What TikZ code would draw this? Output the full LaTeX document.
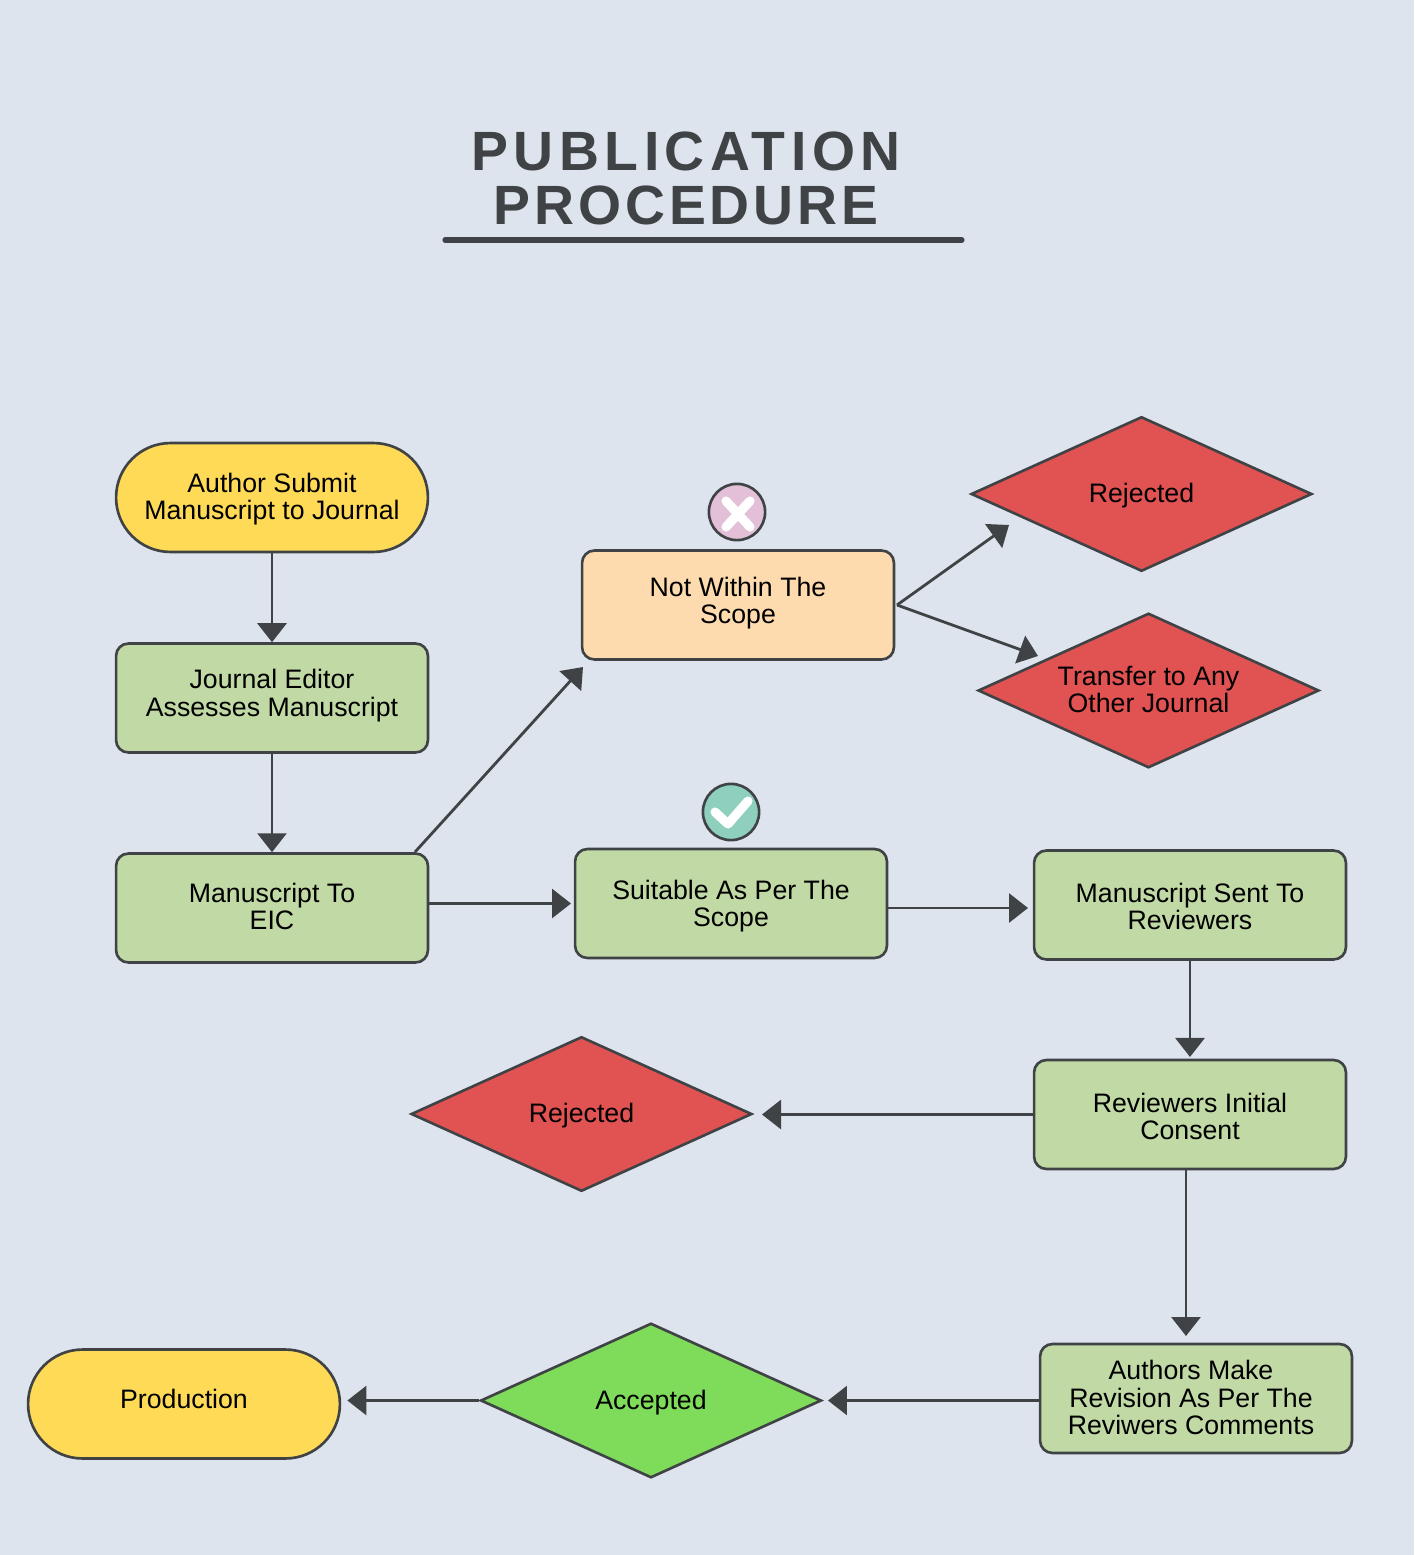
\documentclass[tikz,border=0pt]{standalone}
\usepackage{fontspec}
\usepackage{tikz}
\usepackage{color}
\usetikzlibrary{shapes.geometric,arrows.meta}
\setmainfont{Liberation Sans}
\newfontfamily\headingfont[LetterSpace=10]{Liberation Sans}
\newfontfamily\headingtight[LetterSpace=7]{Liberation Sans}
\definecolor{pagebg}{HTML}{DEE4ED}
\definecolor{linegray}{HTML}{404346}
\definecolor{stepgreen}{HTML}{C1D9A4}
\definecolor{startyellow}{HTML}{FFDA57}
\definecolor{scopeorange}{HTML}{FDDBAE}
\definecolor{rejectred}{HTML}{E15252}
\definecolor{acceptgreen}{HTML}{7FDB5A}
\definecolor{crosspink}{HTML}{E3C0D8}
\definecolor{checkteal}{HTML}{8ECFBD}

\begin{document}
\begin{tikzpicture}[x=0.02cm,y=0.02cm]
\tikzstyle{every node}+=[inner sep=0pt,align=center,text=black,font=\fontsize{15.2}{15.8}\selectfont]
\tikzstyle{stepbox}=[draw=linegray,line width=1.5pt,rectangle,rounded corners=7pt,minimum width=177.5pt,minimum height=62pt,text depth=0pt]
\tikzstyle{pillbox}=[stepbox,rounded corners=31pt,fill=startyellow]
\tikzstyle{choice}=[draw=linegray,line width=1.5pt,diamond,aspect=2.2,minimum width=194pt,minimum height=88pt,text depth=0pt]
\tikzstyle{badge}=[draw=linegray,line width=1.5pt,circle,minimum size=32pt]
\tikzstyle{flow}=[draw=linegray,line width=1.6pt,-{Triangle[length=10.8pt,width=16.5pt]}]
\tikzstyle{iconmark}=[draw=white,line width=5.2pt,line cap=round,line join=round]
\fill [pagebg] (0,0) rectangle (1414,-1555);
\useasboundingbox (0,0) rectangle (1414,-1555);
\node (heading) at (686,-178) [text=linegray,font=\bfseries\fontsize{31.5}{30.7}\selectfont] {{\headingfont\bfseries PUBLICATION}\\{\headingtight\bfseries PROCEDURE}};
\coordinate (ruleleft) at (445,-240);
\coordinate (ruleright) at (962,-240);
\draw [linegray,line width=2.9pt,line cap=round] (ruleleft) -- (ruleright);
\node (author) at (272,-497.5) [pillbox,text height=25.6pt] {Author Submit\\Manuscript to Journal};
\node (editor) at (272,-698) [stepbox,fill=stepgreen,text height=20.5pt] {Journal Editor\\Assesses Manuscript};
\node (eic) at (272,-908) [stepbox,fill=stepgreen,text height=25pt] {Manuscript To\\EIC};
\node (outscope) at (738,-605) [stepbox,fill=scopeorange,text height=21.6pt] {Not Within The\\Scope};
\node (suitable) at (731,-903.5) [stepbox,fill=stepgreen,text height=26.7pt] {Suitable As Per The\\Scope};
\node (sent) at (1190,-905) [stepbox,fill=stepgreen,text height=28.4pt] {Manuscript Sent To\\Reviewers};
\node (initial) at (1190,-1114.5) [stepbox,fill=stepgreen,text height=29pt] {Reviewers Initial\\Consent};
\node (revision) at (1196,-1398.5) [stepbox,fill=stepgreen,text height=41.5pt] {\mbox{Authors Make\kern5.7pt}\\\mbox{Revision As Per The\kern5.7pt}\\\mbox{Reviwers Comments\kern5.7pt}};
\node (production) at (184,-1404) [pillbox,text height=4.6pt] {Production};
\node (rejectone) at (1141.5,-494) [choice,fill=rejectred,text height=10.2pt] {Rejected};
\node (transfer) at (1148.5,-690.5) [choice,fill=rejectred,text height=25.6pt] {Transfer to Any\\Other Journal};
\node (rejecttwo) at (581.5,-1114) [choice,fill=rejectred,text height=10.2pt] {Rejected};
\node (accepted) at (651,-1400.5) [choice,fill=acceptgreen,text height=10.2pt] {Accepted};
\node (crossicon) at (737,-512) [badge,fill=crosspink] {};
\draw [iconmark] (726,-501) -- (750,-527);
\draw [iconmark] (750,-501) -- (726,-527);
\node (checkicon) at (731,-812) [badge,fill=checkteal] {};
\draw [iconmark] (715,-812) -- (728,-824) -- (748,-801);
\coordinate (eicout) at (415,-852);
\coordinate (scopein) at (583,-667);
\coordinate (scopeout) at (897,-605);
\coordinate (rejectin) at (1009,-525);
\coordinate (transferin) at (1038,-656);
\coordinate (suitout) at (888,-908);
\coordinate (sentin) at (1028,-908);
\coordinate (eicright) at (429,-903.5);
\coordinate (suitin) at (571,-903.5);
\coordinate (initout) at (1186,-1169);
\coordinate (revin) at (1186,-1336);
\draw [flow] (author.south) -- (editor.north);
\draw [flow] (editor.south) -- (eic.north);
\draw [flow] (eicout) -- (scopein);
\draw [flow] (eicright) -- (suitin);
\draw [flow] (suitout) -- (sentin);
\draw [flow,shorten >=1pt] (sent.south) -- (initial.north);
\draw [flow,shorten >=5pt] (initial.west) -- (initial.west -| rejecttwo.east);
\draw [flow] (initout) -- (revin);
\draw [flow,shorten >=3pt] (revision.west |- accepted.east) -- (accepted.east);
\draw [flow,shorten >=3.5pt] (accepted.west) -- (accepted.west -| production.east);
\draw [flow] (scopeout) -- (rejectin);
\draw [flow] (scopeout) -- (transferin);
\end{tikzpicture}
\end{document}
